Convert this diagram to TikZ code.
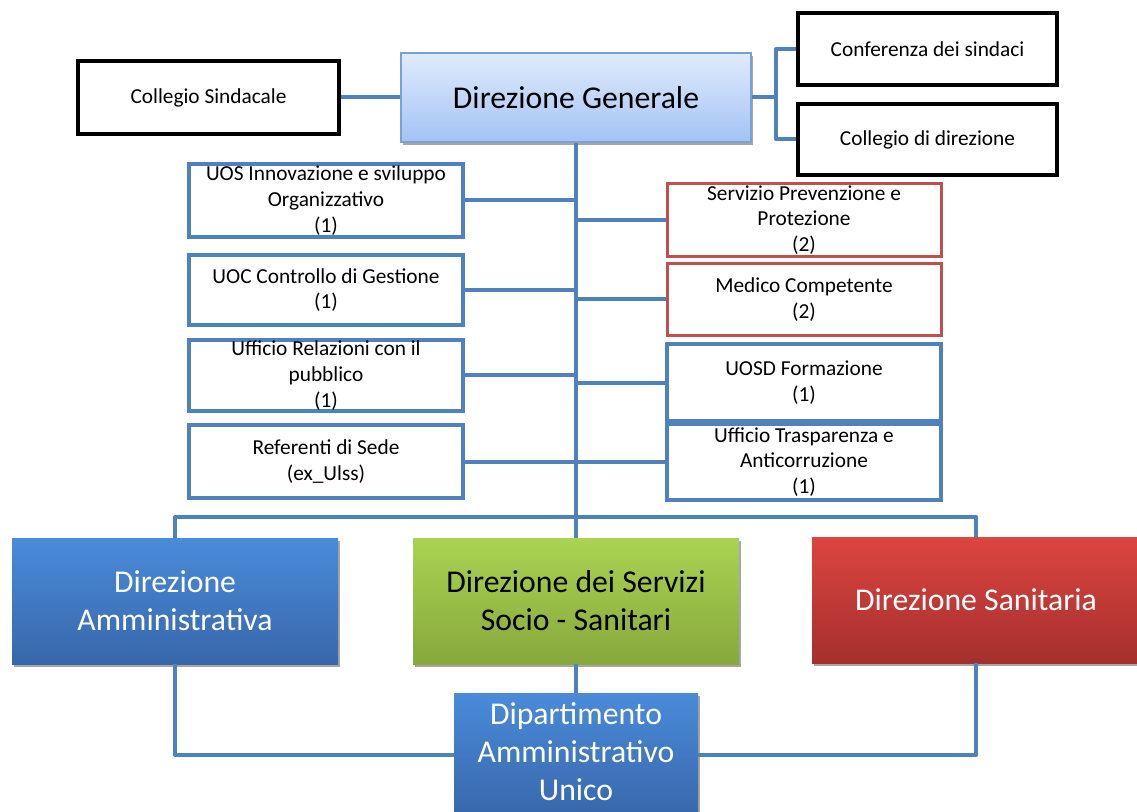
\documentclass[tikz,border=0pt]{standalone}
\usepackage{fontspec}
\setmainfont{Carlito}
\usetikzlibrary{shadows}
\definecolor{lineblue}{HTML}{4F81BD}
\definecolor{boxred}{HTML}{C0504D}
\definecolor{dgtop}{HTML}{E0EBFC}
\definecolor{dgbot}{HTML}{A3C3F5}
\definecolor{dgborder}{HTML}{7BA1D4}
\definecolor{bluetop}{HTML}{4A8BDA}
\definecolor{bluebot}{HTML}{3867AA}
\definecolor{greentop}{HTML}{AAD352}
\definecolor{greenbot}{HTML}{87A83C}
\definecolor{redtop}{HTML}{DC4541}
\definecolor{redbot}{HTML}{A52F2C}
\tikzset{
  smallfont/.style={font=\fontsize{16}{19.2}\selectfont},
  bigfont/.style={font=\fontsize{23.8}{28.5}\selectfont},
  blackbox/.style={draw=black, line width=3pt, fill=white, smallfont, align=center, inner sep=0pt},
  bluebox/.style={draw=lineblue, line width=3pt, fill=white, smallfont, align=center, inner sep=0pt,
    minimum width=205.5pt},
  redbox/.style={draw=boxred, line width=2.25pt, fill=white, smallfont, align=center, inner sep=0pt,
    minimum width=205.5pt},
  bigbox/.style={bigfont, align=center, inner sep=0pt,
    drop shadow={shadow xshift=1.5pt, shadow yshift=-2.2pt, opacity=0.35, fill=black}},
  connector/.style={draw=lineblue, line width=3pt, line join=round},
}
\begin{document}
\begin{tikzpicture}[x=0.75pt,y=-0.75pt]
\useasboundingbox (0,0) rectangle (1137,812);

\coordinate (br) at (776,97.5);
\coordinate (bar) at (576,517);

% top boxes
\node[blackbox, minimum width=195.75pt, minimum height=54.75pt] (cs) at (208.5,97.5) {Collegio Sindacale};
\node[blackbox, minimum width=194.25pt, minimum height=54pt] (conf) at (927.5,49) {Conferenza dei sindaci};
\node[blackbox, minimum width=194.25pt, minimum height=53.25pt] (cdir) at (927.5,139.5) {Collegio di direzione};
\node[bigbox, draw=dgborder, line width=0.9pt, top color=dgtop, bottom color=dgbot,
  minimum width=262.5pt, minimum height=66.75pt] (dg) at (576,97.5) {Direzione Generale};

% left staff boxes
\node[bluebox, minimum height=54.75pt] (uos) at (326,200.5) {UOS Innovazione e sviluppo\\Organizzativo\\(1)};
\node[bluebox, minimum height=52.5pt] (uoc) at (326,290) {UOC Controllo di Gestione\\(1)};
\node[bluebox, minimum height=53.25pt] (urp) at (326,375.5) {Ufficio Relazioni con il\\pubblico\\(1)};
\node[bluebox, minimum height=54.75pt] (ref) at (326,461.5) {Referenti di Sede\\(ex\_Ulss)};

% right staff boxes
\node[redbox, minimum height=54.75pt] (spp) at (804,220) {Servizio Prevenzione e\\Protezione\\(2)};
\node[redbox, minimum height=54pt] (mc) at (804,299.5) {Medico Competente\\(2)};
\node[bluebox, minimum height=57pt] (uosd) at (804,382.5) {UOSD Formazione\\(1)};
\node[bluebox, minimum height=57pt] (uta) at (804,462) {Ufficio Trasparenza e\\Anticorruzione\\(1)};

% bottom boxes
\node[bigbox, text=white, top color=bluetop, bottom color=bluebot,
  minimum width=244.5pt, minimum height=94.5pt] (da) at (175,601) {Direzione\\Amministrativa};
\node[bigbox, text=black, top color=greentop, bottom color=greenbot,
  minimum width=244.5pt, minimum height=94.5pt] (dss) at (576,601) {Direzione dei Servizi\\Socio - Sanitari};
\node[bigbox, text=white, top color=redtop, bottom color=redbot,
  minimum width=246pt, minimum height=94.5pt] (ds) at (976,600) {Direzione Sanitaria};
\node[bigbox, text=white, top color=bluetop, bottom color=bluebot,
  minimum width=183pt, minimum height=93pt] (dau) at (576,755) {};
\node[bigfont, text=white, align=center, inner sep=0pt] (dautext) at (576,752) {Dipartimento\\Amministrativo\\Unico};

% connectors
\path[connector] (cs.east) -- (dg.west);
\path[connector] (dg.east) -- (br);
\path[connector] (conf.west) -| (br) |- (cdir.west);
\path[connector] (dg.south) -- (dss.north);
\path[connector] (uos.east) -- (uos.east -| dg.south);
\path[connector] (uoc.east) -- (uoc.east -| dg.south);
\path[connector] (urp.east) -- (urp.east -| dg.south);
\path[connector] (ref.east) -- (ref.east -| dg.south);
\path[connector] (spp.west) -- (spp.west -| dg.south);
\path[connector] (mc.west) -- (mc.west -| dg.south);
\path[connector] (uosd.west) -- (uosd.west -| dg.south);
\path[connector] (uta.west) -- (uta.west -| dg.south);
\path[connector] (da.north) -- (da.north |- bar) -- (ds.north |- bar) -- (ds.north);
\path[connector] (dss.south) -- (dau.north);
\path[connector] (da.south) |- (dau.west);
\path[connector] (ds.south) |- (dau.east);
\end{tikzpicture}
\end{document}
